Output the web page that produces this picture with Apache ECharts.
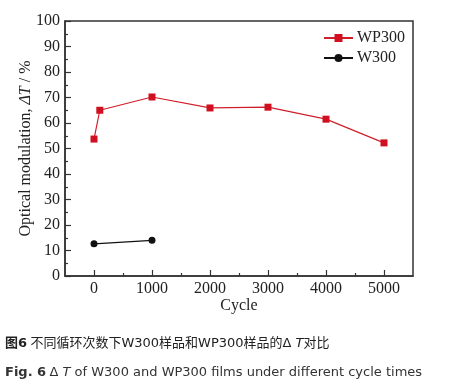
<!DOCTYPE html>
<html><head><meta charset="utf-8">
<script src="https://cdn.jsdelivr.net/npm/echarts@6/dist/echarts.min.js"></script>
<style>html,body{margin:0;padding:0;background:#fff}#c{width:456px;height:390px}</style>
</head><body><div id="c"></div>
<script>
const wp300Cycles = [0, 100, 1000, 2000, 3000, 4000, 5000];
const wp300Values = [53.7, 65.0, 70.2, 65.9, 66.2, 61.5, 52.2];
const w300Cycles = [0, 1000];
const w300Values = [12.6, 14.0];
const xMajorTicks = [0, 1000, 2000, 3000, 4000, 5000];
const xMinorTicks = [500, 1500, 2500, 3500, 4500];
const seriesNames = ['WP300', 'W300'];

const serif = '"Liberation Serif", "Times New Roman", serif';
const chart = echarts.init(document.getElementById('c'), null, {renderer: 'canvas'});
chart.setOption({
  animation: false,
  backgroundColor: '#fff',
  grid: {left: 65, right: 43, top: 21, bottom: 114, show: true, borderColor: '#333', borderWidth: 1.5, backgroundColor: 'transparent'},
  legend: {
    data: seriesNames, orient: 'vertical', left: 318, top: 25, itemWidth: 29, itemHeight: 10, itemGap: 4,
    textStyle: {fontFamily: serif, fontSize: 16, color: '#222', lineHeight: 16, padding: [0,0,0,-1]}
  },
  xAxis: [{
    type: 'value', min: -500, max: 5500,
    axisLine: {show: true, onZero: false, lineStyle: {color: '#333', width: 1.5}},
    splitLine: {show: false},
    axisTick: {show: true, inside: true, length: 6, customValues: xMajorTicks, lineStyle: {color: '#333', width: 1.2}},
    axisLabel: {customValues: xMajorTicks, formatter: v => String(v), fontFamily: serif, fontSize: 16, color: '#222', margin: 5},
    name: 'Cycle', nameLocation: 'middle', nameGap: 22, nameMoveOverlap: false,
    nameTextStyle: {fontFamily: serif, fontSize: 16, color: '#222'}
  }, {
    type: 'value', min: -500, max: 5500, position: 'bottom',
    axisLine: {show: false, onZero: false}, splitLine: {show: false},
    axisTick: {show: true, inside: true, length: 3, customValues: xMinorTicks, lineStyle: {color: '#333', width: 1.2}},
    axisLabel: {show: false}
  }],
  yAxis: {
    type: 'value', min: 0, max: 100, interval: 10,
    axisLine: {show: true, onZero: false, lineStyle: {color: '#333', width: 1.5}},
    splitLine: {show: false},
    axisTick: {show: true, inside: true, length: 6, lineStyle: {color: '#333', width: 1.2}},
    minorTick: {show: true, splitNumber: 2, length: 3, lineStyle: {color: '#333', width: 1.2}},
    axisLabel: {fontFamily: serif, fontSize: 16, color: '#222', margin: 5},
    name: '{a|Optical modulation, }{b|ΔT}{a| / %}', nameLocation: 'middle', nameGap: 31, nameRotate: 90, nameMoveOverlap: false,
    nameTextStyle: {fontFamily: serif, fontSize: 16, color: '#222',
      rich: {a: {fontFamily: serif, fontSize: 16, color: '#222'}, b: {fontFamily: serif, fontSize: 16, fontStyle: 'italic', color: '#222'}}}
  },
  series: [{
    name: seriesNames[0], type: 'line', xAxisIndex: 0,
    data: wp300Cycles.map((c, i) => [c, wp300Values[i]]),
    symbol: 'rect', symbolSize: 7,
    lineStyle: {color: '#d01f2a', width: 1.2}, itemStyle: {color: '#d01020'}
  }, {
    name: seriesNames[1], type: 'line', xAxisIndex: 0,
    data: w300Cycles.map((c, i) => [c, w300Values[i]]),
    symbol: 'circle', symbolSize: 7,
    lineStyle: {color: '#111', width: 1.2}, itemStyle: {color: '#111'}
  }],
  graphic: [{
    type: 'text', left: 5, top: 337,
    style: {
      text: '{b|图6} {n|不同循环次数下W300样品和WP300样品的Δ }{i|T}{n|对比}',
      rich: {
        b: {fontFamily: '"DejaVu Sans", "Noto Sans CJK SC"', fontSize: 13, fontWeight: 'bold', fill: '#222'},
        n: {fontFamily: '"DejaVu Sans", "Noto Sans CJK SC"', fontSize: 13, fill: '#222'},
        i: {fontFamily: '"DejaVu Sans", "Noto Sans CJK SC"', fontSize: 13, fontStyle: 'italic', fill: '#222'}
      }
    }
  }, {
    type: 'text', left: 5, top: 366,
    style: {
      text: '{b|Fig. 6} {n|Δ }{i|T}{n| of W300 and WP300 films under different cycle times}',
      rich: {
        b: {fontFamily: '"DejaVu Sans"', fontSize: 13, fontWeight: 'bold', fill: '#333'},
        n: {fontFamily: '"DejaVu Sans"', fontSize: 13, fill: '#333'},
        i: {fontFamily: '"DejaVu Sans"', fontSize: 13, fontStyle: 'italic', fill: '#333'}
      }
    }
  }]
});
</script></body></html>
